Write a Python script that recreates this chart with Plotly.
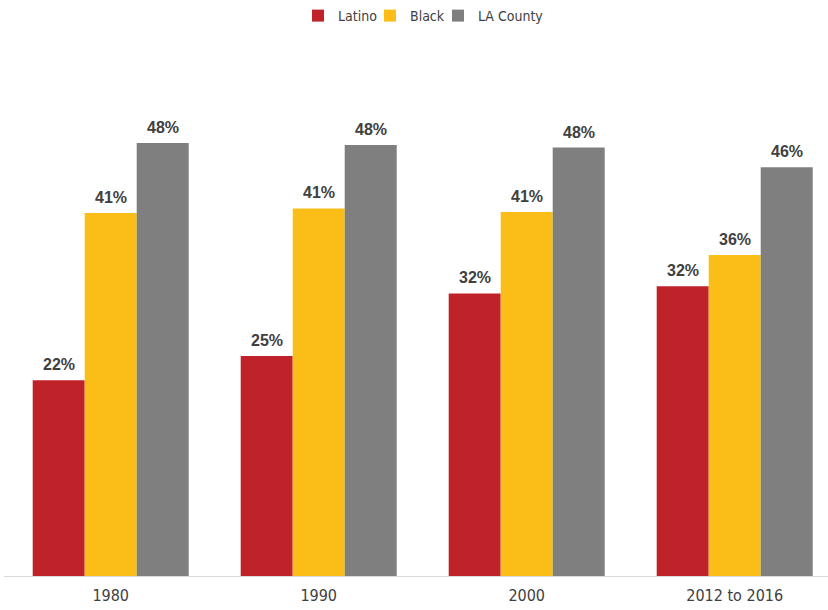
import plotly.graph_objects as go

# Share of households, by period and group (%)
periods = ["1980", "1990", "2000", "2012 to 2016"]
latino = [21.9, 24.6, 31.6, 32.4]
black = [40.6, 41.1, 40.7, 35.9]
la_county = [48.4, 48.2, 47.9, 45.7]

series_names = ["Latino", "Black", "LA County"]
series_values = [latino, black, la_county]
series_colors = ["#C0222A", "#FBBE18", "#7F7F7F"]

label_font = dict(family="Liberation Sans, Arial, sans-serif", size=16, color="#404040")
narrow_font = "Liberation Sans Narrow, DejaVu Sans Condensed, Arial Narrow, sans-serif"

bar_px = 52  # pixel width of one bar inside a group
legend_ids = ["legend", "legend2", "legend3"]
legend_left_px = [298, 370, 438]  # left edge of each legend entry, px

fig = go.Figure()
for name, vals, color, lg in zip(series_names, series_values, series_colors, legend_ids):
    fig.add_trace(go.Bar(
        x=periods,
        y=vals,
        name=name,
        legend=lg,
        marker=dict(color=color, line=dict(width=0)),
    ))

# value labels above each bar, a little clear of the bar top
for i, vals in enumerate(series_values):
    for j, v in enumerate(vals):
        fig.add_annotation(
            x=j, y=v, xref="x", yref="y",
            text=f"<b>{v:.0f}%</b>",
            showarrow=False,
            xanchor="center", yanchor="bottom",
            xshift=(i - 1) * bar_px, yshift=5,
            font=label_font,
        )

legend_style = dict(
    orientation="h",
    xref="container",
    xanchor="left",
    y=1.0,
    yref="container",
    yanchor="top",
    font=dict(family=narrow_font, size=14, color="#404040"),
    itemwidth=30,
    bgcolor="rgba(0,0,0,0)",
)

fig.update_layout(
    width=828,
    height=610,
    margin=dict(l=4, r=0, t=40, b=34, autoexpand=False),
    paper_bgcolor="white",
    plot_bgcolor="white",
    barmode="group",
    bargap=0.25,
    bargroupgap=0,
    showlegend=True,
    xaxis=dict(
        type="category",
        range=[-0.513, 3.4485],
        showline=True,
        linecolor="#D9D9D9",
        linewidth=1,
        ticks="",
        showgrid=False,
        ticklabelstandoff=5,
        tickfont=dict(family=narrow_font, size=16, color="#404040"),
    ),
    yaxis=dict(
        range=[0, 59.93],
        visible=False,
        showgrid=False,
        zeroline=False,
    ),
)
for lg, left in zip(legend_ids, legend_left_px):
    fig.update_layout({lg: dict(legend_style, x=left / 828)})

fig.write_html("out.html")
